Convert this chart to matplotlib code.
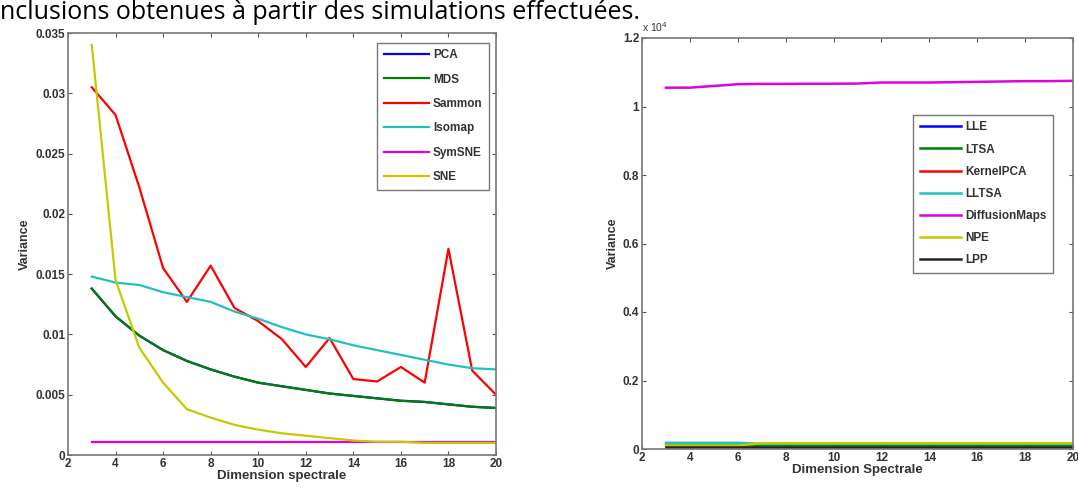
import numpy as np
import matplotlib
matplotlib.use("Agg")
import matplotlib.pyplot as plt

# dimensions (x axis) shared by both panels
dims = list(range(3, 21))

# left panel: variance per method
pca = [0.0138, 0.0115, 0.0099, 0.0087, 0.0078, 0.0071, 0.0065, 0.0060, 0.0057,
       0.0054, 0.0051, 0.0049, 0.0047, 0.0045, 0.0044, 0.0042, 0.0040, 0.0039]
mds = [0.0138, 0.0115, 0.0099, 0.0087, 0.0078, 0.0071, 0.0065, 0.0060, 0.0057,
       0.0054, 0.0051, 0.0049, 0.0047, 0.0045, 0.0044, 0.0042, 0.0040, 0.0039]
sammon = [0.0305, 0.0282, 0.0222, 0.0155, 0.0127, 0.0157, 0.0122, 0.0111, 0.0096,
          0.0073, 0.0097, 0.0063, 0.0061, 0.0073, 0.0060, 0.0171, 0.0070, 0.0050]
isomap = [0.0148, 0.0143, 0.0141, 0.0135, 0.0131, 0.0127, 0.0119, 0.0113, 0.0106,
          0.0100, 0.0096, 0.0091, 0.0087, 0.0083, 0.0079, 0.0075, 0.0072, 0.0071]
symsne = [0.0011] * 18
sne = [0.0340, 0.0145, 0.0089, 0.0060, 0.0038, 0.0031, 0.0025, 0.0021, 0.0018,
       0.0016, 0.0014, 0.0012, 0.0011, 0.0011, 0.0010, 0.0010, 0.0010, 0.0010]

# right panel: variance per method (raw values)
lle = [30] * 18
ltsa = [130] * 18
kernelpca = [20] * 18
lltsa = [180, 180, 180, 180, 150, 150, 150, 150, 150, 150, 150, 150, 150, 150, 150, 150, 150, 150]
diffmaps = [10550, 10550, 10600, 10650, 10660, 10660, 10665, 10665, 10670,
            10700, 10700, 10700, 10710, 10720, 10730, 10740, 10740, 10750]
npe = [100, 100, 100, 100, 170, 170, 170, 170, 170, 170, 170, 170, 170, 170, 170, 170, 170, 170]
lpp = [50] * 18

left_names = ["PCA", "MDS", "Sammon", "Isomap", "SymSNE", "SNE"]
right_names = ["LLE", "LTSA", "KernelPCA", "LLTSA", "DiffusionMaps", "NPE", "LPP"]

blue = "#0000ff"
green = "#008000"
red = "#ff0000"
cyan = "#20c0c0"
magenta = "#e000e0"
yellow = "#c8c800"
black = "#222222"

txt_col = "#333333"
plt.rcParams["font.family"] = ["Liberation Sans", "DejaVu Sans"]

fig = plt.figure(figsize=(10.78, 4.92), dpi=100)

# line of document text at the very top
fig.text(0.0, 1 - 19 / 492, "nclusions obtenues à partir des simulations effectuées.",
         fontsize=18, family=["Open Sans", "DejaVu Sans"], va="baseline", ha="left", color="black")

ax1 = fig.add_axes([68 / 1078, 37 / 492, 428 / 1078, 422 / 492])
for vals, col, name in zip([pca, mds, sammon, isomap, symsne, sne],
                           [blue, green, red, cyan, magenta, yellow], left_names):
    ax1.plot(dims, vals, color=col, lw=1.6, label=name)
ax1.set_xlim(2, 20)
ax1.set_ylim(0, 0.035)
ax1.set_xticks(range(2, 21, 2))
yt = [0, 0.005, 0.01, 0.015, 0.02, 0.025, 0.03, 0.035]
ax1.set_yticks(yt)
ax1.set_yticklabels(["0", "0.005", "0.01", "0.015", "0.02", "0.025", "0.03", "0.035"])
ax1.set_xlabel("Dimension spectrale", fontsize=9.5, fontweight="bold", color=txt_col, labelpad=0)
ax1.set_ylabel("Variance", fontsize=9, fontweight="bold", color=txt_col, labelpad=3)
leg1 = ax1.legend(loc="upper right", bbox_to_anchor=(0.9836, 0.977),
                  prop={"weight": "bold", "size": 8.5}, fancybox=False, edgecolor="#555555",
                  handlelength=3.8, handletextpad=0.35, labelspacing=1.05, borderpad=0.55,
                  borderaxespad=0.0)

ax2 = fig.add_axes([642 / 1078, 43 / 492, 431 / 1078, 411 / 492])
scale = 1e4
for vals, col, name in zip([lle, ltsa, kernelpca, lltsa, diffmaps, npe, lpp],
                           [blue, green, red, cyan, magenta, yellow, black], right_names):
    ax2.plot(dims, np.array(vals) / scale, color=col, lw=1.8, label=name)
ax2.set_xlim(2, 20)
ax2.set_ylim(0, 1.2)
ax2.set_xticks(range(2, 21, 2))
ax2.set_yticks([0, 0.2, 0.4, 0.6, 0.8, 1.0, 1.2])
ax2.set_yticklabels(["0", "0.2", "0.4", "0.6", "0.8", "1", "1.2"])
ax2.text(0.0, 1.01, "x 10$^4$", transform=ax2.transAxes, fontsize=7.5,
         color=txt_col, ha="left", va="bottom")
ax2.set_xlabel("Dimension Spectrale", fontsize=9.5, fontweight="bold", color=txt_col, labelpad=0)
ax2.set_ylabel("Variance", fontsize=9, fontweight="bold", color=txt_col, labelpad=3)
leg2 = ax2.legend(loc="upper right", bbox_to_anchor=(0.9536, 0.8127),
                  prop={"weight": "bold", "size": 8.5}, fancybox=False, edgecolor="#555555",
                  handlelength=3.5, handletextpad=0.35, labelspacing=0.86, borderpad=0.55,
                  borderaxespad=0.0)

for ax, leg in [(ax1, leg1), (ax2, leg2)]:
    leg.get_frame().set_linewidth(1.0)
    for t in leg.get_texts():
        t.set_color(txt_col)
    ax.tick_params(direction="in", top=True, right=True, length=3, width=0.8,
                   labelsize=8.5, colors="#555555", labelcolor=txt_col, pad=2)
    for lab in ax.get_xticklabels() + ax.get_yticklabels():
        lab.set_fontweight("bold")
    for s in ax.spines.values():
        s.set_color("#777777")
        s.set_linewidth(1.2)

fig.savefig("out.png", dpi=100)
